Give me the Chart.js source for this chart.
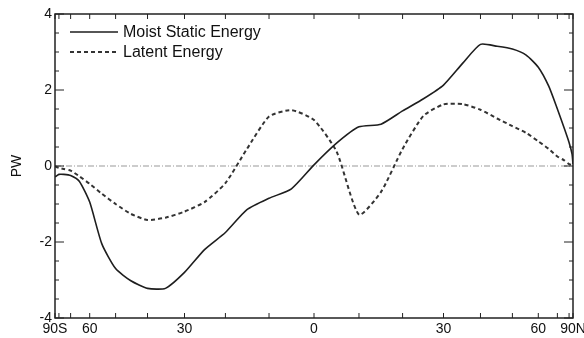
<!DOCTYPE html>
<html>
<head>
<meta charset="utf-8">
<script src="https://cdn.jsdelivr.net/npm/chart.js@4"></script>
<style>
  html, body { margin: 0; padding: 0; background: #fff; }
  #wrap { width: 584px; height: 338px; }
</style>
</head>
<body>
<div id="wrap"><canvas id="chart" width="584" height="338"></canvas></div>
<script>
// latitude of each sample, degrees (negative = south)
const latitudes = [-90, -85, -80, -75, -70, -65, -60, -55, -50, -45, -40, -35, -30, -25, -20, -15, -10, -5,
  0, 5, 10, 15, 20, 25, 30, 35, 40, 45, 50, 55, 60, 65, 70, 75, 80, 85, 90];

// northward transport, PW
const moistStatic = [-0.28, -0.27, -0.22, -0.22, -0.25, -0.4, -0.95, -2.05, -2.7, -3.02, -3.22, -3.22, -2.8, -2.2, -1.75, -1.15, -0.85, -0.6,
  0.03, 0.6, 1.03, 1.1, 1.45, 1.77, 2.13, 2.7, 3.2, 3.15, 3.08, 2.92, 2.6, 2.1, 1.5, 1.0, 0.62, 0.32, 0.05];
const latent = [0.0, -0.02, -0.05, -0.08, -0.12, -0.27, -0.47, -0.73, -1.0, -1.26, -1.42, -1.36, -1.2, -0.95, -0.45, 0.45, 1.3, 1.47,
  1.21, 0.38, -1.28, -0.68, 0.45, 1.32, 1.62, 1.63, 1.48, 1.25, 1.05, 0.87, 0.65, 0.45, 0.25, 0.15, 0.05, 0.02, 0.0];

// x axis is area-weighted (sine of latitude)
const labelLats = [-90, -60, -30, 0, 30, 60, 90];
const xTickLabels = ['90S', '60', '30', '0', '30', '60', '90N'];
const minorLats = [-90, -80, -70, -60, -50, -40, -30, -20, -10, 0, 10, 20, 30, 40, 50, 60, 70, 80, 90];
const yTicks = [-4, -2, 0, 2, 4];

const sinLat = d => Math.sin(d * Math.PI / 180);
const toPoints = vals => latitudes.map((lat, i) => ({ x: sinLat(lat), y: vals[i] }));

const FONT = 'Liberation Sans, Arial, sans-serif';

const framePlugin = {
  id: 'frame',
  beforeDatasetsDraw(chart) {
    const { ctx, chartArea: a, scales: { y } } = chart;
    // dotted zero line
    ctx.save();
    ctx.strokeStyle = '#999';
    ctx.lineWidth = 1;
    ctx.setLineDash([6, 2, 1, 2]);
    const y0 = y.getPixelForValue(0);
    ctx.beginPath();
    ctx.moveTo(a.left, y0);
    ctx.lineTo(a.right, y0);
    ctx.stroke();
    ctx.restore();
  },
  afterDraw(chart) {
    const { ctx, chartArea: a, scales: { x, y } } = chart;
    ctx.save();
    ctx.strokeStyle = '#222';
    ctx.lineWidth = 1.5;
    ctx.strokeRect(a.left, a.top, a.right - a.left, a.bottom - a.top);

    ctx.lineWidth = 1;
    ctx.beginPath();
    // ticks every 10 degrees, top and bottom, pointing in
    minorLats.forEach(lat => {
      const px = x.getPixelForValue(sinLat(lat));
      ctx.moveTo(px, a.bottom); ctx.lineTo(px, a.bottom - 5);
      ctx.moveTo(px, a.top); ctx.lineTo(px, a.top + 5);
    });
    // y ticks: long at labels, short every 0.5
    for (let v = -4; v <= 4; v += 0.5) {
      const py = y.getPixelForValue(v);
      const len = (v % 2 === 0) ? 9 : 4;
      ctx.moveTo(a.left, py); ctx.lineTo(a.left + len, py);
      ctx.moveTo(a.right, py); ctx.lineTo(a.right - len, py);
    }
    ctx.stroke();

    // legend, inside the frame at top left
    const rows = chart.data.datasets;
    ctx.font = '16px ' + FONT;
    ctx.fillStyle = '#111';
    ctx.textBaseline = 'middle';
    rows.forEach((ds, i) => {
      const ly = a.top + 18 + i * 20;
      ctx.strokeStyle = ds.borderColor;
      ctx.lineWidth = ds.borderWidth;
      ctx.setLineDash(ds.borderDash || []);
      ctx.beginPath();
      ctx.moveTo(a.left + 15, ly);
      ctx.lineTo(a.left + 63, ly);
      ctx.stroke();
      ctx.fillText(ds.label, a.left + 68, ly + 1);
    });
    ctx.restore();
  }
};

new Chart(document.getElementById('chart'), {
  type: 'scatter',
  data: {
    datasets: [
      {
        label: 'Moist Static Energy',
        data: toPoints(moistStatic),
        showLine: true,
        borderColor: '#1e1e1e',
        borderWidth: 1.6,
        pointRadius: 0,
        tension: 0.2
      },
      {
        label: 'Latent Energy',
        data: toPoints(latent),
        showLine: true,
        borderColor: '#333',
        borderWidth: 2,
        borderDash: [4, 3],
        pointRadius: 0,
        tension: 0.2
      }
    ]
  },
  options: {
    responsive: false,
    animation: false,
    layout: { padding: { top: 14, right: 11, left: 0, bottom: 0 } },
    plugins: { legend: { display: false }, tooltip: { enabled: false } },
    scales: {
      x: {
        type: 'linear',
        min: -1,
        max: 1,
        grid: { display: false, drawTicks: false },
        border: { display: false },
        afterBuildTicks: scale => {
          scale.ticks = labelLats.map(l => ({ value: sinLat(l) }));
        },
        afterFit: scale => {
          scale.height = 20;
          scale.paddingLeft = 0;
          scale.paddingRight = 0;
        },
        ticks: {
          autoSkip: false,
          maxRotation: 0,
          padding: 3,
          color: '#111',
          font: { family: FONT, size: 14 },
          callback: (v, i) => xTickLabels[i]
        }
      },
      y: {
        min: -4,
        max: 4,
        grid: { display: false, drawTicks: false },
        border: { display: false },
        afterBuildTicks: scale => {
          scale.ticks = yTicks.map(v => ({ value: v }));
        },
        afterFit: scale => { scale.width = 55; },
        ticks: {
          padding: 3,
          color: '#111',
          font: { family: FONT, size: 14 }
        },
        title: {
          display: true,
          text: 'PW',
          color: '#111',
          font: { family: FONT, size: 14 },
          padding: { top: 9, bottom: 0 }
        }
      }
    }
  },
  plugins: [framePlugin]
});
</script>
</body>
</html>
